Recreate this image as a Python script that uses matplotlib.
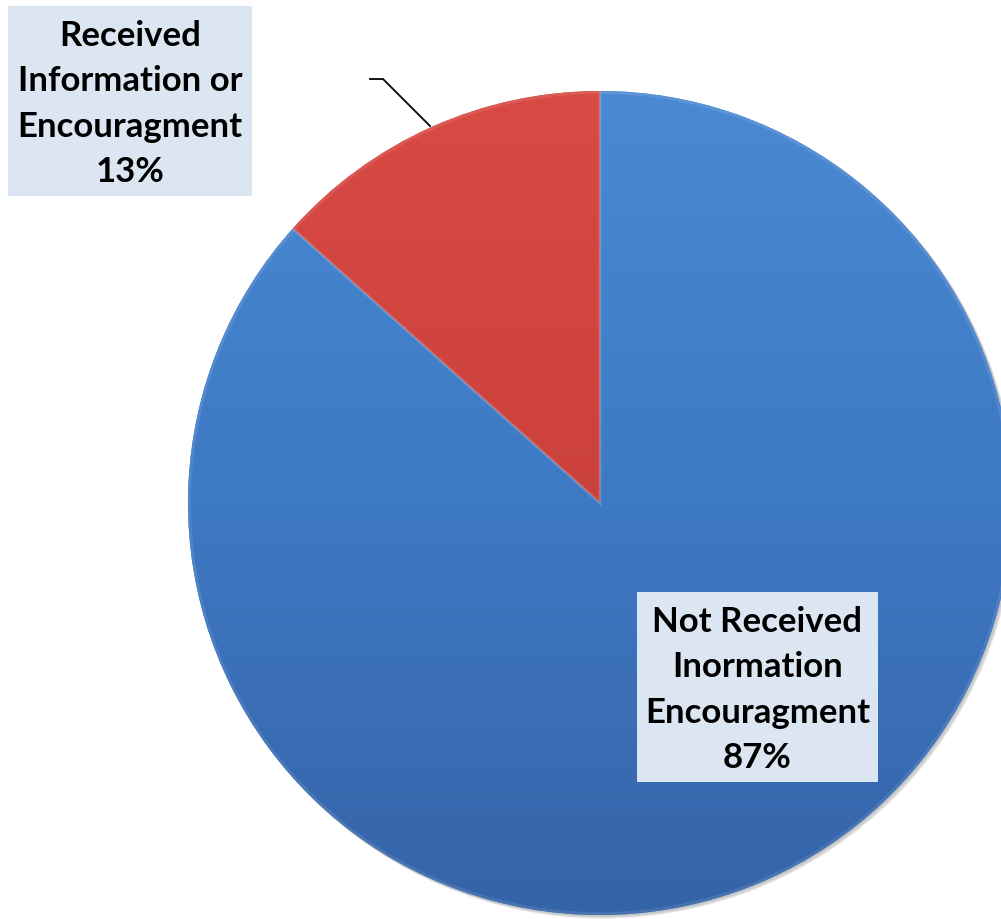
import numpy as np
import matplotlib
matplotlib.use("Agg")
import matplotlib.pyplot as plt
from matplotlib.colors import LinearSegmentedColormap
from matplotlib.patches import Rectangle, Circle, Wedge

categories = ["Received\nInformation or\nEncouragment", "Not Received\nInormation\nEncouragment"]
values = [13.4, 86.6]

W, H = 1001, 920
fig = plt.figure(figsize=(W / 100, H / 100), dpi=100)
ax = fig.add_axes([0, 0, 1, 1])

cx, cy, R = 600, H - 504, 412

# soft shadow
for i, a in enumerate([0.06, 0.08, 0.10]):
    ax.add_patch(Circle((cx + 1 + i, cy - 1 - i), R + 0.5, color="black", alpha=a, lw=0, zorder=0))

wedges, _ = ax.pie(values, colors=["#D24640", "#4684CE"], startangle=90, counterclock=True,
                   center=(cx, cy), radius=R, wedgeprops=dict(linewidth=0, zorder=1))

grads = [["#D94A44", "#CB413C", "#B23530"], ["#4A89D4", "#3E79C3", "#3563A8"]]
grad = np.linspace(0, 1, 256).reshape(-1, 1)
for w, cols in zip(wedges, grads):
    cmap = LinearSegmentedColormap.from_list("g", cols[::-1])
    im = ax.imshow(grad, extent=[cx - R, cx + R, cy - R, cy + R], origin="lower", cmap=cmap,
                   aspect="auto", zorder=2)
    im.set_clip_path(w)
    w.set_zorder(2)

# subtle bevel highlight on wedges
for w in wedges:
    ax.add_patch(Wedge(w.center, w.r - 1.5, w.theta1, w.theta2,
                       facecolor="none", edgecolor="white", alpha=0.10, lw=2, zorder=3))

ax.set_xlim(0, W)
ax.set_ylim(0, H)
ax.set_aspect("auto")
ax.axis("off")

font = dict(family="Lato", weight="bold", fontsize=25, color="black")

def label(box, lines_y, text):
    x0, y0, x1, y1 = box
    ax.add_patch(Rectangle((x0, H - y1), x1 - x0, y1 - y0, facecolor="#DCE6F2", edgecolor="none", zorder=5))
    xc = (x0 + x1) / 2
    for ly, t in zip(lines_y, text.split("\n")):
        ax.text(xc, H - ly, t, ha="center", va="center", zorder=6, **font)

pct = [f"{v:.0f}%" for v in values]
label((8, 7, 252, 197), [36, 81, 127, 172], categories[0] + "\n" + pct[0])
label((637, 593, 878, 783), [622, 667, 713, 758], categories[1] + "\n" + pct[1])

# leader line
ax.plot([370, 383, 430], [H - 80, H - 80, H - 127], color="black", lw=1.3, zorder=4)

fig.savefig("out.png", dpi=100)
